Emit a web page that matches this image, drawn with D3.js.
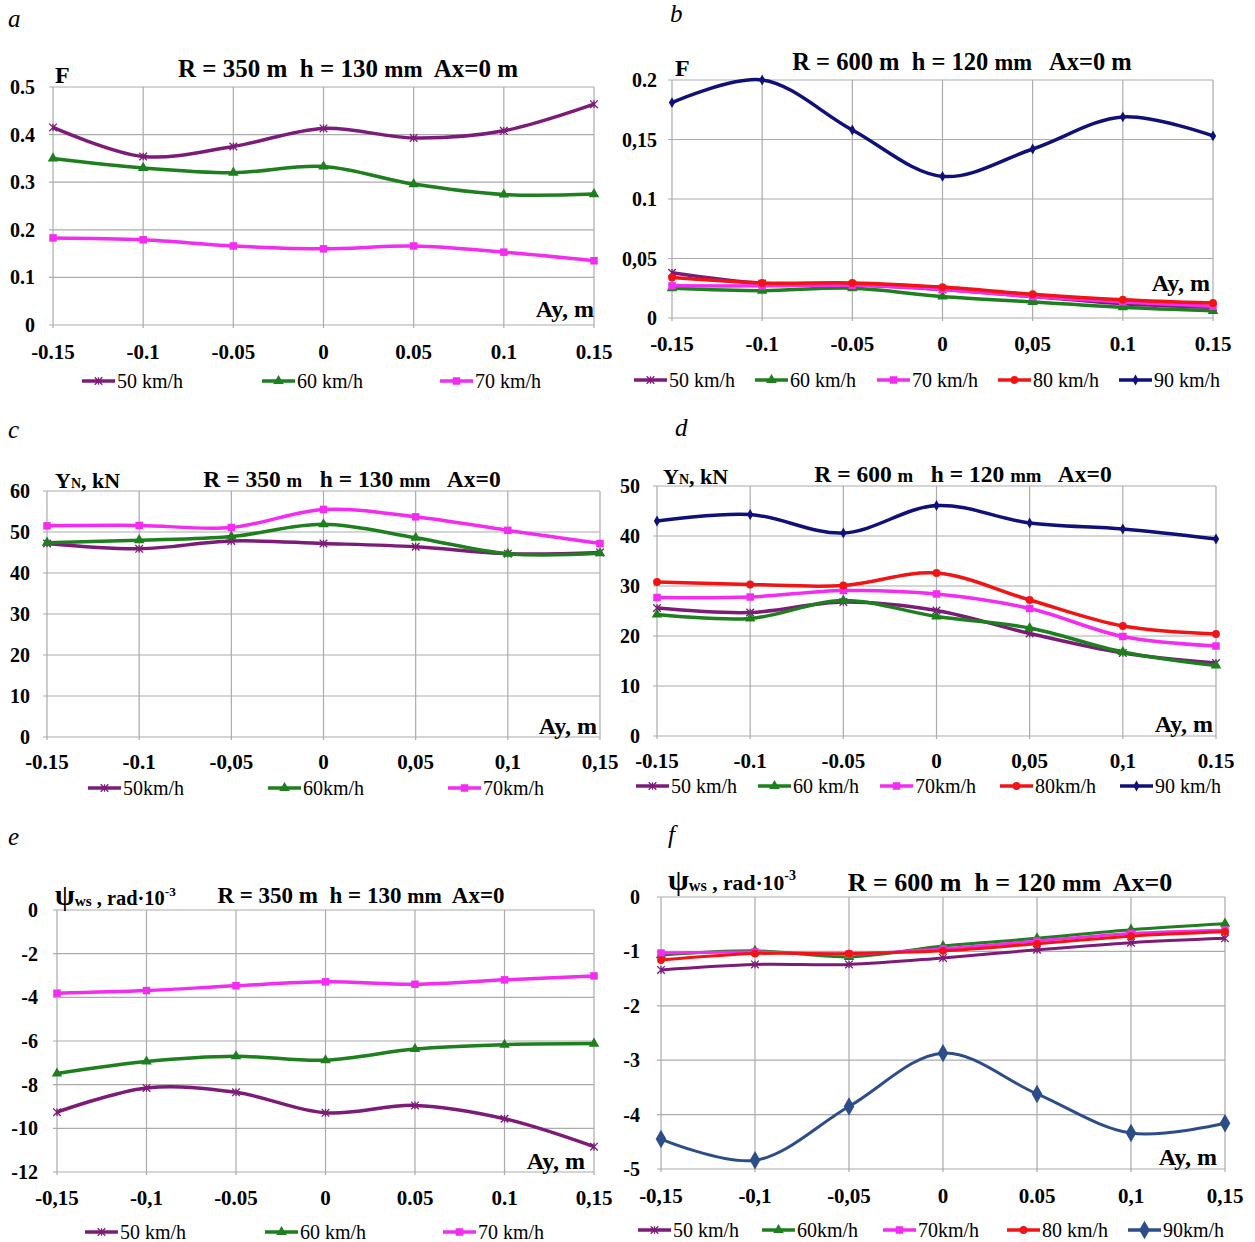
<!DOCTYPE html>
<html><head><meta charset="utf-8">
<script src="https://cdn.jsdelivr.net/npm/d3@7"></script>
<style>html,body{margin:0;padding:0;background:#fff;}svg{display:block;}</style>
</head><body>
<svg id="chart" width="1255" height="1242"></svg>
<script>
// ---------- DATA ----------
const xValues = [-0.15, -0.1, -0.05, 0, 0.05, 0.1, 0.15];
const speedNames = ["50 km/h", "60 km/h", "70 km/h", "80 km/h", "90 km/h"];

// Panel a: F, R=350 m
const aF50 = [0.415, 0.354, 0.375, 0.413, 0.393, 0.408, 0.464];
const aF60 = [0.350, 0.330, 0.320, 0.333, 0.296, 0.274, 0.275];
const aF70 = [0.183, 0.179, 0.166, 0.160, 0.166, 0.153, 0.135];
// Panel b: F, R=600 m
const bF50 = [0.038, 0.029, 0.028, 0.024, 0.018, 0.012, 0.009];
const bF60 = [0.025, 0.023, 0.025, 0.018, 0.0135, 0.009, 0.006];
const bF70 = [0.027, 0.027, 0.0275, 0.024, 0.018, 0.0135, 0.0098];
const bF80 = [0.034, 0.0295, 0.0295, 0.026, 0.020, 0.0154, 0.0126];
const bF90 = [0.181, 0.200, 0.158, 0.119, 0.142, 0.169, 0.153];
// Panel c: YN, R=350 m
const cY50 = [47.2, 45.9, 47.8, 47.2, 46.4, 44.7, 45.0];
const cY60 = [47.4, 48.0, 48.9, 51.9, 48.6, 44.7, 44.8];
const cY70 = [51.5, 51.6, 51.1, 55.5, 53.7, 50.4, 47.2];
// Panel d: YN, R=600 m
const dY50 = [25.6, 24.7, 26.8, 25.1, 20.5, 16.6, 14.6];
const dY60 = [24.3, 23.5, 27.1, 23.9, 21.6, 16.8, 14.1];
const dY70 = [27.7, 27.8, 29.1, 28.4, 25.5, 19.9, 18.0];
const dY80 = [30.8, 30.3, 30.1, 32.6, 27.2, 22.0, 20.4];
const dY90 = [43.0, 44.3, 40.6, 46.1, 42.6, 41.4, 39.4];
// Panel e: psi_ws, R=350 m
const ePsi50 = [-9.26, -8.15, -8.35, -9.29, -8.95, -9.56, -10.84];
const ePsi60 = [-7.49, -6.94, -6.70, -6.88, -6.37, -6.17, -6.12];
const ePsi70 = [-3.81, -3.69, -3.47, -3.29, -3.40, -3.20, -3.02];
// Panel f: psi_ws, R=600 m
const fPsi50 = [-1.34, -1.24, -1.24, -1.12, -0.97, -0.84, -0.76];
const fPsi60 = [-1.07, -0.99, -1.10, -0.90, -0.76, -0.60, -0.49];
const fPsi70 = [-1.03, -1.01, -1.05, -0.95, -0.81, -0.67, -0.61];
const fPsi80 = [-1.16, -1.04, -1.04, -0.99, -0.86, -0.72, -0.64];
const fPsi90 = [-4.45, -4.84, -3.85, -2.87, -3.62, -4.34, -4.16];

// tick labels (as printed in the figure)
const aXTicks = ["-0.15", "-0.1", "-0.05", "0", "0.05", "0.1", "0.15"];
const bXTicks = ["-0.15", "-0.1", "-0.05", "0", "0,05", "0.1", "0.15"];
const cXTicks = ["-0.15", "-0.1", "-0,05", "0", "0,05", "0,1", "0,15"];
const dXTicks = ["-0.15", "-0.1", "-0.05", "0", "0,05", "0,1", "0.15"];
const eXTicks = ["-0,15", "-0,1", "-0.05", "0", "0.05", "0.1", "0,15"];
const fXTicks = ["-0,15", "-0,1", "-0,05", "0", "0.05", "0,1", "0,15"];

const aYTickValues = [0, 0.1, 0.2, 0.3, 0.4, 0.5];
const aYTicks = ["0", "0.1", "0.2", "0.3", "0.4", "0.5"];
const bYTickValues = [0, 0.05, 0.1, 0.15, 0.2];
const bYTicks = ["0", "0,05", "0.1", "0,15", "0.2"];
const cYTickValues = [0, 10, 20, 30, 40, 50, 60];
const cYTicks = ["0", "10", "20", "30", "40", "50", "60"];
const dYTickValues = [0, 10, 20, 30, 40, 50];
const dYTicks = ["0", "10", "20", "30", "40", "50"];
const eYTickValues = [-12, -10, -8, -6, -4, -2, 0];
const eYTicks = ["-12", "-10", "-8", "-6", "-4", "-2", "0"];
const fYTickValues = [-5, -4, -3, -2, -1, 0];
const fYTicks = ["-5", "-4", "-3", "-2", "-1", "0"];

const aLegend = ["50 km/h", "60 km/h", "70 km/h"];
const bLegend = ["50 km/h", "60 km/h", "70 km/h", "80 km/h", "90 km/h"];
const cLegend = ["50km/h", "60km/h", "70km/h"];
const dLegend = ["50 km/h", "60 km/h", "70km/h", "80km/h", "90 km/h"];
const eLegend = ["50 km/h", "60 km/h", "70 km/h"];
const fLegend = ["50 km/h", "60km/h", "70km/h", "80 km/h", "90km/h"];

// ---------- STYLE ----------
const colors = ["#7c1c78", "#1d7f1d", "#f22cf0", "#f01414", "#10107a"];
const FONT = "'Liberation Serif','Times New Roman',serif";
const GRID = "#ababab";

const svg = d3.select("#chart");
svg.append("rect").attr("width", 1255).attr("height", 1242).attr("fill", "#fff");

const starPath = s => `M${-s},${-s}L${s},${s}M${-s},${s}L${s},${-s}M0,${-s}L0,${s}`;

function drawPanel(p) {
  const g = svg.append("g");
  const x = d3.scaleLinear().domain([-0.15, 0.15]).range([p.left, p.right]);
  const y = d3.scaleLinear().domain(p.yDomain).range([p.bottom, p.top]);

  // grid
  g.append("g").selectAll("line").data(p.yTickValues).join("line")
    .attr("x1", p.left - 4).attr("x2", p.right)
    .attr("y1", d => y(d)).attr("y2", d => y(d))
    .attr("stroke", GRID).attr("stroke-width", 1.2);
  g.append("g").selectAll("line").data(xValues).join("line")
    .attr("x1", d => x(d)).attr("x2", d => x(d))
    .attr("y1", p.top).attr("y2", p.bottom + 3)
    .attr("stroke", GRID).attr("stroke-width", 1.2);

  // y tick labels
  g.append("g").selectAll("text").data(p.yTickValues).join("text")
    .attr("x", p.left - p.yLabOff).attr("y", d => y(d)).attr("dy", "0.35em")
    .attr("text-anchor", "end").attr("font-family", FONT).attr("font-weight", "bold")
    .attr("font-size", 20).text((d, i) => p.yTicks[i]);
  // x tick labels
  g.append("g").selectAll("text").data(xValues).join("text")
    .attr("x", d => x(d)).attr("y", p.bottom + p.xLabOff).attr("dy", "0.35em")
    .attr("text-anchor", "middle").attr("font-family", FONT).attr("font-weight", "bold")
    .attr("font-size", 21).text((d, i) => p.xTicks[i]);

  // series
  const line = d3.line().x((d, i) => x(xValues[i])).y(d => y(d)).curve(d3.curveCatmullRom.alpha(0.5));
  p.series.forEach((vals, si) => {
    const col = p.colors ? p.colors[si] : colors[si];
    g.append("path").attr("d", line(vals)).attr("fill", "none")
      .attr("stroke", col).attr("stroke-width", p.lw).attr("stroke-linejoin", "round");
    const mg = g.append("g");
    vals.forEach((v, i) => {
      drawMarker(mg, si, x(xValues[i]), y(v), col, p.mScale[si]);
    });
  });

  // plot texts
  g.append("text").attr("x", p.ayX).attr("y", p.ayY).attr("text-anchor", "end")
    .attr("font-family", FONT).attr("font-weight", "bold").attr("font-size", 24).text("Ay, m");

  // legend
  p.legend.forEach((lab, si) => {
    const col = p.colors ? p.colors[si] : colors[si];
    const lx = p.legX[si];
    g.append("line").attr("x1", lx).attr("x2", lx + 33).attr("y1", p.legY).attr("y2", p.legY)
      .attr("stroke", col).attr("stroke-width", 3.5);
    drawMarker(g, si, lx + 16.5, p.legY, col, p.mScale[si]);
    g.append("text").attr("x", lx + 35).attr("y", p.legY).attr("dy", "0.35em")
      .attr("font-family", FONT).attr("font-size", 20).text(lab);
  });
  return g;
}

function drawMarker(g, si, cx, cy, col, sc) {
  sc = sc || 1;
  if (si === 0) {
    g.append("path").attr("d", starPath(3.8 * sc)).attr("transform", `translate(${cx},${cy})`)
      .attr("stroke", col).attr("stroke-width", 1.3).attr("fill", "none");
  } else {
    const types = [null, d3.symbolTriangle, d3.symbolSquare, d3.symbolCircle, d3.symbolDiamond];
    const sizes = [0, 48, 56, 48, 34];
    g.append("path").attr("d", d3.symbol().type(types[si]).size(sizes[si] * sc * sc)())
      .attr("transform", `translate(${cx},${cy})`).attr("fill", col);
  }
}

function title(tx, ty, size, parts) {
  const t = svg.append("text").attr("x", tx).attr("y", ty).attr("text-anchor", "middle")
    .attr("font-family", FONT).attr("font-weight", "bold").attr("font-size", size)
    .attr("xml:space", "preserve");
  parts.forEach(pt => t.append("tspan").attr("font-size", pt[1] * size).text(pt[0]));
}

function letter(tx, ty, s) {
  svg.append("text").attr("x", tx).attr("y", ty).attr("font-family", FONT)
    .attr("font-style", "italic").attr("font-size", 25).text(s);
}

function yLabelY(tx, ty) {
  const t = svg.append("text").attr("x", tx).attr("y", ty).attr("font-family", FONT)
    .attr("font-weight", "bold").attr("font-size", 22);
  t.append("tspan").text("Y");
  t.append("tspan").attr("font-size", 14).text("N");
  t.append("tspan").text(", kN");
}
function yLabelPsi(tx, ty, k) {
  const t = svg.append("text").attr("x", tx).attr("y", ty).attr("font-family", FONT)
    .attr("font-weight", "bold").attr("font-size", 20 * k);
  t.append("tspan").attr("font-size", 28 * k).text("ψ");
  t.append("tspan").attr("font-size", 15 * k).attr("dy", 1).text("ws");
  t.append("tspan").attr("font-size", 20 * k).attr("dy", -1).text(" , rad·10");
  t.append("tspan").attr("font-size", 13 * k).attr("dy", -9 * k).text("-3");
}
function yLabelF(tx, ty) {
  svg.append("text").attr("x", tx).attr("y", ty).attr("font-family", FONT)
    .attr("font-weight", "bold").attr("font-size", 24).text("F");
}

// ---------- PANELS ----------
drawPanel({left: 53, right: 594, top: 87, bottom: 325, yDomain: [0, 0.5],
  yTickValues: aYTickValues, yTicks: aYTicks, xTicks: aXTicks, yLabOff: 18, xLabOff: 27,
  series: [aF50, aF60, aF70], legend: aLegend, legX: [82, 262, 440], legY: 381,
  lw: 3.5, mScale: [1, 1, 1], ayX: 594, ayY: 317});
letter(8, 27, "a"); yLabelF(55, 83);
title(348, 77, 25, [["R = 350 m  h = 130 ", 1], ["mm", 0.92], ["  Ax=0 m", 1]]);

drawPanel({left: 672, right: 1213, top: 80, bottom: 318, yDomain: [0, 0.2],
  yTickValues: bYTickValues, yTicks: bYTicks, xTicks: bXTicks, yLabOff: 15, xLabOff: 26,
  series: [bF50, bF60, bF70, bF80, bF90], legend: bLegend, legX: [634, 755, 877, 998, 1119], legY: 380,
  lw: 3.5, mScale: [1, 1, 1, 1, 1], ayX: 1210, ayY: 291});
letter(670, 22, "b"); yLabelF(675, 76);
title(962, 70, 24.5, [["R = 600 m  h = 120 ", 1], ["mm", 0.92], ["   Ax=0 m", 1]]);

drawPanel({left: 47, right: 600, top: 491, bottom: 737, yDomain: [0, 60],
  yTickValues: cYTickValues, yTicks: cYTicks, xTicks: cXTicks, yLabOff: 17, xLabOff: 25,
  series: [cY50, cY60, cY70], legend: cLegend, legX: [88, 268, 448], legY: 788,
  lw: 3.5, mScale: [1, 1, 1], ayX: 597, ayY: 734});
letter(8, 438, "c"); yLabelY(55, 488);
title(352, 487, 23.5, [["R = 350 ", 1], ["m", 0.8], ["   h = 130 ", 1], ["mm", 0.8], ["   Ax=0", 1]]);

drawPanel({left: 657, right: 1216, top: 486, bottom: 736, yDomain: [0, 50],
  yTickValues: dYTickValues, yTicks: dYTicks, xTicks: dXTicks, yLabOff: 17, xLabOff: 25,
  series: [dY50, dY60, dY70, dY80, dY90], legend: dLegend, legX: [636, 758, 880, 1000, 1120], legY: 786,
  lw: 3.5, mScale: [1, 1, 1, 1, 1], ayX: 1213, ayY: 732});
letter(675, 436, "d"); yLabelY(663, 484);
title(963, 482, 23.5, [["R = 600 ", 1], ["m", 0.8], ["   h = 120 ", 1], ["mm", 0.8], ["   Ax=0", 1]]);

drawPanel({left: 57, right: 594, top: 910, bottom: 1172, yDomain: [-12, 0],
  yTickValues: eYTickValues, yTicks: eYTicks, xTicks: eXTicks, yLabOff: 19, xLabOff: 26,
  series: [ePsi50, ePsi60, ePsi70], legend: eLegend, legX: [85, 265, 443], legY: 1232,
  lw: 3.5, mScale: [1, 1, 1], ayX: 585, ayY: 1169});
letter(8, 845, "e"); yLabelPsi(55, 905, 1.02);
title(361, 903, 23, [["R = 350 m  h = 130 ", 1], ["mm", 0.9], ["  Ax=0", 1]]);

drawPanel({left: 661, right: 1225, top: 897, bottom: 1169, yDomain: [-5, 0],
  yTickValues: fYTickValues, yTicks: fYTicks, xTicks: fXTicks, yLabOff: 21, xLabOff: 27,
  series: [fPsi50, fPsi60, fPsi70, fPsi80, fPsi90], legend: fLegend, legX: [638, 762, 883, 1007, 1128], legY: 1230,
  colors: ["#7c1c78", "#1d7f1d", "#f22cf0", "#f01414", "#2d4d8a"],
  lw: 3, mScale: [1, 1, 1, 1, 1.7], ayX: 1217, ayY: 1165});
letter(668, 843, "f"); yLabelPsi(668, 890, 1.08);
title(1010, 891, 26, [["R = 600 m  h = 120 ", 1], ["mm", 0.9], ["  Ax=0", 1]]);
</script>
</body></html>
